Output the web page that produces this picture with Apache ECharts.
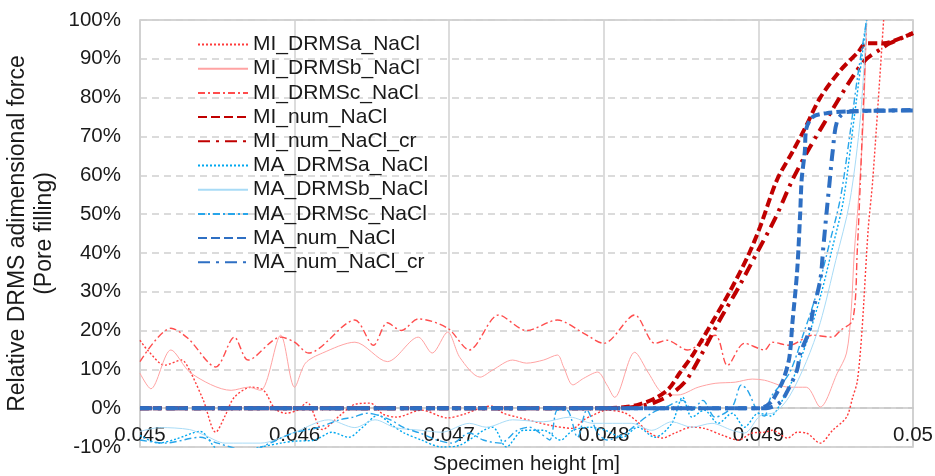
<!DOCTYPE html>
<html>
<head>
<meta charset="utf-8">
<script src="https://cdn.jsdelivr.net/npm/echarts@6/dist/echarts.min.js"></script>
<style>
  html, body { margin: 0; padding: 0; background: #fff; }
  #chart { width: 935px; height: 476px; }
</style>
</head>
<body>
<div id="chart"></div>
<script>
// specimen height [m] vs relative force [%]
const xTicks = [0.045, 0.046, 0.047, 0.048, 0.049, 0.05]

const miDrmsA = [
  [0.04500, 17.5], [0.04505, 14.9], [0.04516, 11.1], [0.04527, 12.4], [0.04532, 9.8], [0.04541, 2],
  [0.04549, -6.2], [0.04555, -2], [0.04561, 2.8], [0.04572, 5.4], [0.04580, 4.6], [0.04587, 0],
  [0.04594, -1.3], [0.04602, -0.5], [0.04608, 1.5], [0.04618, -5.5], [0.04629, -2], [0.04639, 1],
  [0.04649, 1.3], [0.04657, -1.5], [0.04666, -2.3], [0.04682, -0.5], [0.04699, -2.5], [0.04710, -1.5],
  [0.04722, 0.3], [0.04728, 0.5], [0.04735, -1.3], [0.04744, -2.3], [0.04765, -4.4], [0.04780, -5.2],
  [0.04787, -3], [0.04793, -1.8], [0.04802, -0.5], [0.04814, -1.3], [0.04822, -3.6], [0.04829, -6.2],
  [0.04838, -7.7], [0.04846, -6.4], [0.04857, -4.9], [0.04865, -5.2], [0.04877, -7], [0.04887, -8.2],
  [0.04896, -6.4], [0.04904, -6.2], [0.04909, -5.7], [0.04919, -7.7], [0.04925, -6.2], [0.04931, -6.4],
  [0.04940, -9], [0.04948, -5.7], [0.04957, -2.3], [0.04961, 2.8], [0.04964, 7], [0.04967, 20],
  [0.04971, 46], [0.04974, 59], [0.04981, 100]
]

const miDrmsB = [
  [0.04500, 9], [0.04507, 5], [0.04520, 15], [0.04533, 9], [0.04559, 4.6], [0.04570, 5.4],
  [0.04578, 4.6], [0.04591, 18.8], [0.04600, 5.4], [0.04607, 11.6], [0.04618, 14.2], [0.04639, 17],
  [0.04660, 12], [0.04680, 18.3], [0.04689, 14.2], [0.04699, 19.6], [0.04707, 13], [0.04720, 8],
  [0.04728, 9.8], [0.04741, 12.4], [0.04750, 11.6], [0.04761, 12.4], [0.04770, 13.7], [0.04774, 10.6],
  [0.04780, 6], [0.04787, 7.7], [0.04796, 9.3], [0.04802, 6], [0.04807, 2.8], [0.04820, 14.4],
  [0.04829, 9], [0.04838, 3.9], [0.04848, 3.4], [0.04861, 5.4], [0.04872, 6.4], [0.04885, 6.7],
  [0.04896, 7.5], [0.04904, 7.2], [0.04920, 5.4], [0.04931, 5.4], [0.04940, 0.3], [0.04951, 9],
  [0.04957, 14.2], [0.04960, 25], [0.04962, 40], [0.04965, 55], [0.04968, 75], [0.04970, 100]
]

const miDrmsC = [
  [0.04500, 12], [0.04520, 20.6], [0.04531, 18], [0.04549, 10.6], [0.04561, 18.3], [0.04570, 12.4],
  [0.04591, 18.3], [0.04600, 17], [0.04609, 14.2], [0.04639, 22.7], [0.04651, 16.2], [0.04660, 22],
  [0.04669, 20], [0.04680, 23], [0.04699, 20.6], [0.04713, 15], [0.04732, 24], [0.04750, 20],
  [0.04770, 22.7], [0.04787, 19.3], [0.04800, 16.7], [0.04820, 24], [0.04833, 16.7], [0.04841, 17.5],
  [0.04854, 15], [0.04872, 18.8], [0.04880, 11], [0.04891, 16.7], [0.04904, 15], [0.04909, 17],
  [0.04920, 16.2], [0.04935, 18.8], [0.04948, 18.3], [0.04953, 20], [0.04961, 22.7], [0.04964, 41],
  [0.04966, 59], [0.04970, 100]
]

const miNum = [
  [0.04500, 0], [0.04801, 0], [0.04814, 0.3], [0.04823, 1], [0.04833, 2.5], [0.04842, 5],
  [0.04849, 9], [0.04858, 14], [0.04871, 22.7], [0.04882, 30.4], [0.04893, 39], [0.04901, 46.6],
  [0.04912, 58.8], [0.04922, 66], [0.04930, 72], [0.04940, 80], [0.04953, 87], [0.04964, 91.5],
  [0.04970, 94], [0.04981, 94], [0.04990, 95], [0.05000, 96.6]
]

const miNumCr = [
  [0.04500, 0], [0.04810, 0], [0.04823, 0.5], [0.04833, 1.5], [0.04843, 3.5], [0.04853, 7],
  [0.04862, 13], [0.04874, 22], [0.04887, 31], [0.04899, 40], [0.04911, 49], [0.04922, 58.8],
  [0.04933, 67], [0.04948, 77], [0.04962, 86], [0.04970, 90], [0.04981, 93], [0.04985, 94],
  [0.05000, 96.6]
]

const maDrmsA = [
  [0.04500, -7], [0.04512, -9], [0.04523, -8], [0.04539, -6], [0.04550, -10.5], [0.04565, -11],
  [0.04578, -10], [0.04591, -9], [0.04600, -8.5], [0.04613, -8.2], [0.04624, -6.2], [0.04635, -7.5],
  [0.04644, -4.9], [0.04654, -1.8], [0.04663, -4.4], [0.04671, -6.4], [0.04682, -8.2], [0.04695, -10],
  [0.04707, -9.5], [0.04728, -4.9], [0.04737, -10], [0.04748, -5.7], [0.04761, -5.7], [0.04772, -8.2],
  [0.04780, -5.7], [0.04791, -4.9], [0.04801, -5.7], [0.04812, -7.5], [0.04822, -4.9], [0.04833, -7.5],
  [0.04844, -3.9], [0.04851, 2.8], [0.04857, -2.3], [0.04865, -0.5], [0.04874, -3.9], [0.04883, -1.3],
  [0.04891, -4.9], [0.04900, -1.3], [0.04908, -2], [0.04914, 1], [0.04922, 7.2], [0.04931, 16.8],
  [0.04940, 28.6], [0.04948, 41.5], [0.04955, 53.6], [0.04962, 75], [0.04970, 100]
]

const maDrmsB = [
  [0.04500, -6], [0.04513, -5], [0.04532, -5.5], [0.04542, -7], [0.04555, -9], [0.04578, -9],
  [0.04600, -6.2], [0.04622, -3], [0.04639, -5], [0.04652, -3], [0.04665, -5], [0.04682, -5.7],
  [0.04695, -6.2], [0.04713, -3.9], [0.04724, -4.9], [0.04741, -3], [0.04761, -3.5], [0.04778, -2.3],
  [0.04793, -3.9], [0.04818, -3.9], [0.04831, -5.7], [0.04844, -3.5], [0.04857, -4.9], [0.04870, -3.9],
  [0.04883, -5.7], [0.04891, -6.4], [0.04901, -2], [0.04911, -1], [0.04920, 3], [0.04931, 12],
  [0.04940, 22], [0.04950, 38], [0.04959, 53], [0.04966, 75], [0.04970, 100]
]

const maDrmsC = [
  [0.04500, -8.2], [0.04516, -9], [0.04539, -7.5], [0.04550, -9], [0.04571, -11], [0.04584, -9],
  [0.04599, -6.4], [0.04616, -4.9], [0.04629, -3], [0.04638, -2.3], [0.04647, -1.3], [0.04662, -3],
  [0.04670, -4.9], [0.04681, -6.4], [0.04692, -8.2], [0.04702, -9], [0.04713, -6.4], [0.04722, -8.2],
  [0.04733, -9], [0.04744, -5.7], [0.04752, -4.9], [0.04759, -6.5], [0.04765, -8.2], [0.04770, -0.5],
  [0.04776, -0.5], [0.04783, -7.5], [0.04789, -0.5], [0.04796, -6.4], [0.04802, -8.2], [0.04814, -6.4],
  [0.04822, -3.9], [0.04831, -1.3], [0.04840, 0.3], [0.04851, 2], [0.04857, -0.5], [0.04864, 2],
  [0.04872, -2.3], [0.04883, 0.3], [0.04889, 6], [0.04893, 4.6], [0.04900, -1.3], [0.04904, -2],
  [0.04908, 2.8], [0.04920, 9], [0.04929, 19], [0.04938, 30], [0.04946, 42.5], [0.04953, 54],
  [0.04959, 70], [0.04964, 85], [0.04970, 100]
]

const maNum = [
  [0.04500, 0], [0.04901, 0], [0.04908, 1.5], [0.04912, 4], [0.04916, 7.2], [0.04920, 13],
  [0.04922, 22], [0.04925, 35], [0.04927, 50], [0.04928, 59], [0.04930, 66], [0.04931, 72],
  [0.04935, 75], [0.04944, 76], [0.04959, 76.5], [0.05000, 76.8]
]

const maNumCr = [
  [0.04500, 0], [0.04905, 0], [0.04914, 1.5], [0.04919, 4.6], [0.04925, 9.8], [0.04927, 14],
  [0.04933, 20], [0.04935, 24.5], [0.04940, 33], [0.04942, 41.5], [0.04944, 50], [0.04946, 58],
  [0.04948, 66], [0.04951, 74], [0.04957, 76.3], [0.05000, 76.7]
]

const FONT = '"Liberation Sans", Arial, sans-serif'
const chart = echarts.init(document.getElementById('chart'))

const seriesDefs = [
  { name: 'MI_DRMSa_NaCl', data: miDrmsA, color: '#ff3b3b', width: 1.4, type: [2, 2] },
  { name: 'MI_DRMSb_NaCl', data: miDrmsB, color: '#ffa3a3', width: 1, type: 'solid' },
  { name: 'MI_DRMSc_NaCl', data: miDrmsC, color: '#ff4d4d', width: 1.4, type: [7, 3, 2, 3] },
  { name: 'MI_num_NaCl', data: miNum, color: '#c00000', width: 4, type: [9, 4] },
  { name: 'MI_num_NaCl_cr', data: miNumCr, color: '#c00000', width: 4, type: [12, 6, 3, 6] },
  { name: 'MA_DRMSa_NaCl', data: maDrmsA, color: '#00a8f0', width: 1.4, type: [2, 2] },
  { name: 'MA_DRMSb_NaCl', data: maDrmsB, color: '#a8dbf6', width: 1, type: 'solid' },
  { name: 'MA_DRMSc_NaCl', data: maDrmsC, color: '#27a5ea', width: 1.4, type: [7, 3, 2, 3] },
  { name: 'MA_num_NaCl', data: maNum, color: '#2e6fc3', width: 4, type: [9, 4] },
  { name: 'MA_num_NaCl_cr', data: maNumCr, color: '#2e6fc3', width: 4, type: [12, 6, 3, 6] }
]

chart.setOption({
  animation: false,
  backgroundColor: '#fff',
  grid: {
    left: 140, right: 22, top: 20, bottom: 29,
    outerBoundsMode: 'none',
    containLabel: false,
    show: true, borderColor: '#c6c6c6', borderWidth: 1.5
  },
  legend: {
    orient: 'vertical',
    left: 192,
    top: 29,
    itemWidth: 50,
    itemHeight: 20,
    itemGap: 3.2,
    itemStyle: { opacity: 0 },
    textStyle: { fontFamily: FONT, fontSize: 21, color: '#1a1a1a', lineHeight: 20 },
    data: seriesDefs.map((s) => s.name)
  },
  xAxis: {
    type: 'value',
    min: xTicks[0],
    max: xTicks[xTicks.length - 1],
    interval: 0.001,
    name: 'Specimen height [m]',
    nameLocation: 'middle',
    nameGap: 7,
    nameTextStyle: { fontFamily: FONT, fontSize: 20.5, color: '#1a1a1a' },
    axisLine: { onZero: true, lineStyle: { color: '#c6c6c6', width: 1.5 } },
    axisTick: { show: false },
    // labels sit just under the zero line, inside the -10..0 band
    axisLabel: { fontFamily: FONT, fontSize: 20.5, color: '#1a1a1a', margin: -22, showMinLabel: true, showMaxLabel: true },
    splitLine: { show: true, lineStyle: { color: '#d0d0d0', width: 1.5 } }
  },
  yAxis: {
    type: 'value',
    min: -10,
    max: 100,
    interval: 10,
    name: 'Relative DRMS adimensional force\n(Pore filling)',
    nameLocation: 'middle',
    nameRotate: 90,
    nameGap: 77,
    nameTextStyle: { fontFamily: FONT, fontSize: 23, color: '#1a1a1a', lineHeight: 27 },
    axisLine: { show: false },
    axisTick: { show: false },
    axisLabel: { fontFamily: FONT, fontSize: 20.5, color: '#1a1a1a', margin: 19, formatter: '{value}%' },
    splitLine: { show: true, lineStyle: { color: '#d0d0d0', width: 1.5, type: [7, 5] } }
  },
  series: seriesDefs.map((s) => ({
    name: s.name,
    type: 'line',
    data: s.data,
    smooth: 0.3,
    symbol: 'none',
    showSymbol: false,
    clip: true,
    lineStyle: { color: s.color, width: s.width, type: s.type },
    itemStyle: { color: s.color }
  }))
})
</script>
</body>
</html>
